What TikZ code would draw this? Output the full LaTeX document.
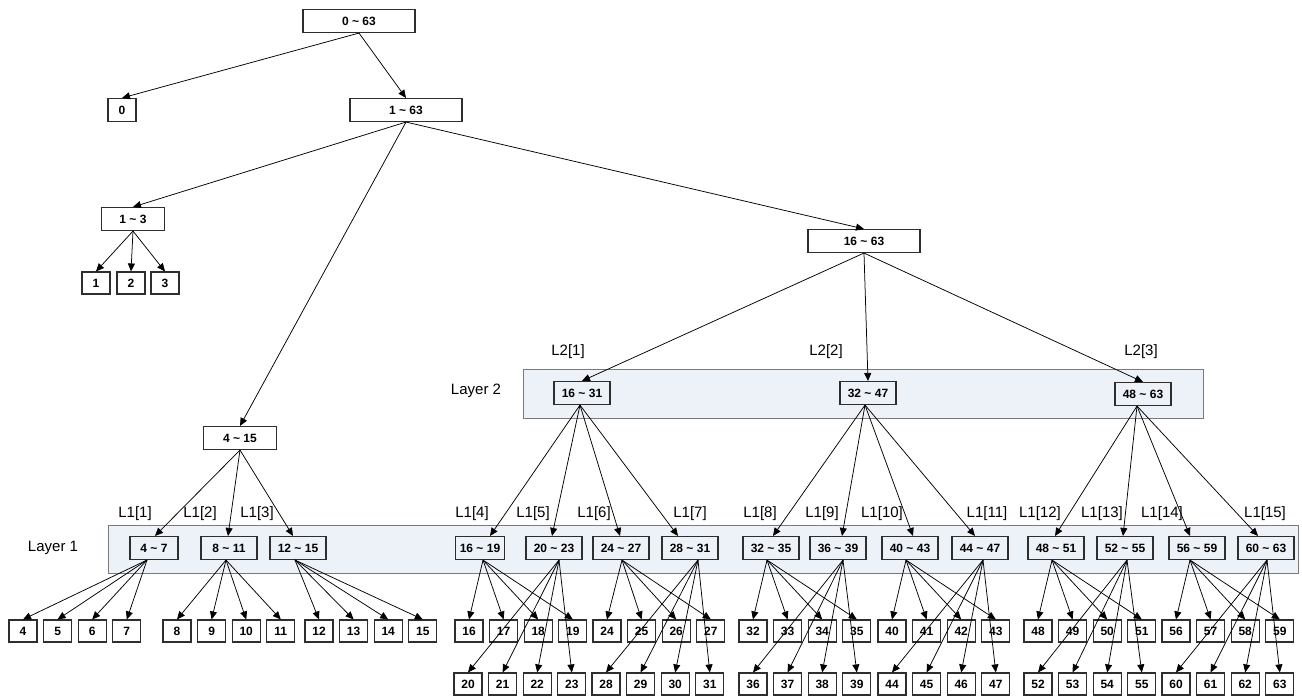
\documentclass[tikz,border=0pt]{standalone}
\usepackage{fontspec}
\setmainfont{Liberation Sans}
\usetikzlibrary{arrows.meta}
\definecolor{layerfill}{HTML}{EDF1F8}
\definecolor{layerline}{HTML}{7A7A7A}
\definecolor{boxline}{HTML}{2E2E2E}
\newcommand\rng[2]{#1 \textasciitilde{} #2}
\tikzset{
  box/.style={draw=boxline, line width=1.1pt, fill=white, inner sep=0pt,
    minimum height=23pt, font=\fontsize{12}{13}\selectfont\bfseries},
  inbox/.style={box, fill=layerfill},
  leaf/.style={box, minimum width=28pt, minimum height=22pt},
  layerbox/.style={draw=layerline, line width=1pt, fill=layerfill},
  tag/.style={inner sep=0pt, font=\fontsize{15}{16}\selectfont},
  arr/.style={line width=0.75pt, -{Triangle[length=8pt,width=7pt]}},
}
\begin{document}
\begin{tikzpicture}[x=1pt, y=-1pt]
\useasboundingbox (0,0) rectangle (1302,696);

% layer bands
\draw[layerbox] (523,369) rectangle (1203,418);
\draw[layerbox] (108,525) rectangle (1298,573);
\node[tag] (lay2) at (476,391) {Layer 2};
\node[tag] (lay1) at (53,548) {Layer 1};

% upper tree
\node[box, minimum width=112pt] (r) at (359,21) {\rng{0}{63}};
\node[box, minimum width=28pt] (n0) at (122,110) {0};
\node[box, minimum width=112pt] (a) at (406,110) {\rng{1}{63}};
\node[box, minimum width=63pt] (b) at (133,219) {\rng{1}{3}};
\node[leaf] (l1) at (96,283) {1};
\node[leaf] (l2) at (131,283) {2};
\node[leaf] (l3) at (165,283) {3};
\node[box, minimum width=112pt] (c) at (864,241) {\rng{16}{63}};
\node[box, minimum width=73pt] (d) at (240,438) {\rng{4}{15}};

% layer 2 nodes
\node[inbox, minimum width=56pt] (P1) at (582,393) {\rng{16}{31}};
\node[inbox, minimum width=56pt] (P2) at (868,393) {\rng{32}{47}};
\node[inbox, minimum width=56pt] (P3) at (1143,394) {\rng{48}{63}};
\foreach \i/\x in {1/568, 2/826, 3/1141}
  \node[tag] (t2\i) at (\x,352) {L2[\i]};

% layer 1 nodes
\foreach \k/\x/\w in {1/154/48, 2/229/56, 3/298/56, 4/480/49, 5/554/56,
    6/621/56, 7/690/56, 8/771/56, 9/838/56, 10/910/56, 11/980/56,
    12/1056/56, 13/1125/56, 14/1197/56, 15/1266/56} {
  \pgfmathtruncatemacro\lo{4*\k}
  \pgfmathtruncatemacro\hi{4*\k+3}
  \node[inbox, minimum width=\w pt] (Q\k) at (\x,548) {\rng{\lo}{\hi}};
}
\foreach \k/\x in {1/135, 2/200, 3/257, 4/472, 5/533, 6/594, 7/690,
    8/760, 9/822, 10/882, 11/987, 12/1040, 13/1102, 14/1162, 15/1265}
  \node[tag] (t1\k) at (\x,514) {L1[\k]};

% leaves
\foreach \first/\bx/\y in {4/23/631, 8/177/631, 12/319/631, 16/469/631,
    20/468/684, 24/607/631, 28/606/684, 32/753/631, 36/753/684,
    40/892/631, 44/892/684, 48/1038/631, 52/1038/684, 56/1176/631,
    60/1176/684} {
  \foreach \j in {0,...,3} {
    \pgfmathtruncatemacro\n{\first+\j}
    \node[leaf] (v\n) at (\bx+34.6*\j,\y) {\n};
  }
}

% connectors of the upper tree
\draw[arr] (r.south) -- (n0.north);
\draw[arr] (r.south) -- (a.north);
\draw[arr] (a.south) -- (b.north);
\draw[arr] (a.south) -- (c.north);
\draw[arr] (a.south) -- (d.north);
\foreach \t in {l1, l2, l3}
  \draw[arr] (b.south) -- (\t.north);
\draw[arr] (c.south) -- (P1.north);
\draw[arr] (c.south) -- (P2.north);
\draw[arr] (c.south) -- (P3.north);

% into layer 1
\foreach \k/\di in {1/1, 2/-1, 3/-5}
  \draw[arr] (d.south) -- ([xshift=\di pt]Q\k.north);
\foreach \p/\dout/\k/\di in {P1/-2/4/10, P1/-2/5/-2, P1/-2/6/-1, P1/-2/7/-12,
    P2/-3/8/2, P2/-3/9/4, P2/-3/10/3, P2/-3/11/-5,
    P3/-6/12/-1, P3/-6/13/-2, P3/-6/14/-7, P3/-6/15/-8}
  \draw[arr] ([xshift=\dout pt]\p.south) -- ([xshift=\di pt]Q\k.north);

% layer 1 to leaves
\foreach \k/\dx in {1/-7, 2/-3, 3/-3, 4/3, 5/5, 6/1, 7/8, 8/-4, 9/5,
    10/-4, 11/3, 12/-4, 13/2, 14/-7, 15/1} {
  \foreach \j in {0,...,3} {
    \pgfmathtruncatemacro\n{4*\k+\j}
    \draw[arr] ([xshift=\dx pt]Q\k.south) -- (v\n.north);
  }
}
\end{tikzpicture}
\end{document}
